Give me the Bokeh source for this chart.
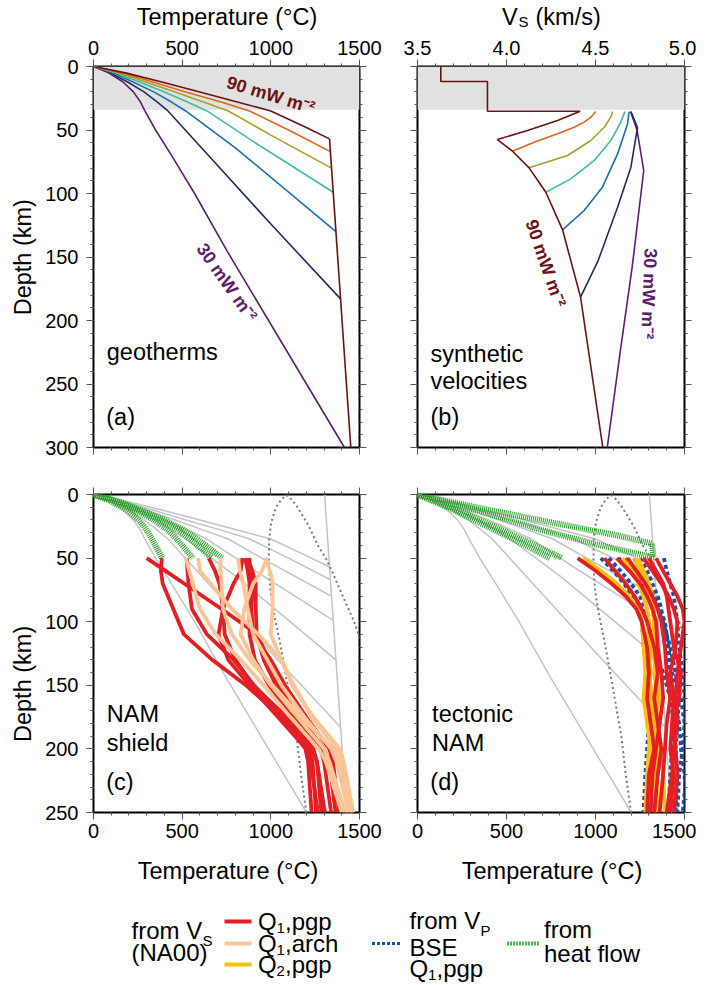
import math
from bokeh.plotting import figure
from bokeh.models import (Range1d, LinearAxis, SingleIntervalTicker, PrintfTickFormatter,
                          CustomJSTickFormatter, BoxAnnotation)
from bokeh.layouts import column, row
from bokeh.embed import file_html
from bokeh.resources import INLINE
from bokeh.core.properties import value

FONT = "Liberation Sans"

# ---------------- data ----------------
crust_depth = 34
temp_ticks = [0, 500, 1000, 1500]
vs_ticks = [3.5, 4.0, 4.5, 5.0]
depth_ticks_top = [0, 50, 100, 150, 200, 250, 300]
depth_ticks_bottom = [0, 50, 100, 150, 200, 250]

# geotherms (panel a), heat flow in mW m-2
geo_heatflow = [30, 40, 50, 60, 70, 80, 90]
geo30_T = [0, 85, 165, 225, 265, 290, 350, 440, 570, 752, 1415]
geo30_z = [0, 5, 12, 20, 28, 35, 50, 70, 100, 145, 300]
geo40_T = [0, 95, 190, 285, 360, 420, 700, 1000, 1393]
geo40_z = [0, 5, 12, 20, 28, 35, 78, 124, 183]
geo50_T = [0, 110, 220, 340, 440, 520, 800, 1367]
geo50_z = [0, 5, 12, 20, 28, 35, 64, 130]
geo60_T = [0, 125, 255, 400, 530, 640, 900, 1352]
geo60_z = [0, 5, 12, 20, 28, 35, 59, 99]
geo70_T = [0, 140, 290, 460, 620, 760, 1000, 1342]
geo70_z = [0, 5, 12, 20, 28, 35, 54, 80]
geo80_T = [0, 160, 330, 520, 720, 880, 1100, 1336]
geo80_z = [0, 5, 12, 20, 28, 35, 50, 67]
geo90_T = [0, 180, 380, 600, 800, 1000, 1200, 1331]
geo90_z = [0, 5, 12, 20, 27.5, 35, 48, 57]
adiabat_T = [1303, 1451]
adiabat_z = [0, 300]

# synthetic velocities (panel b)
vs30_v = [4.697, 4.734, 4.771, 4.706, 4.640, 4.566]
vs30_z = [35.5, 50.4, 81.9, 158, 223.6, 300]
vs40_v = [4.699, 4.736, 4.699, 4.624, 4.515, 4.416]
vs40_z = [35.5, 48, 79.3, 110.8, 152.8, 181.6]
vs50_v = [4.689, 4.680, 4.624, 4.539, 4.436, 4.315]
vs50_z = [35.5, 45.2, 68.8, 95, 113.4, 128.6]
vs60_v = [4.665, 4.642, 4.586, 4.493, 4.361, 4.221]
vs60_z = [35.5, 43.8, 58.3, 74, 88.5, 99]
vs70_v = [4.596, 4.586, 4.549, 4.474, 4.343, 4.127]
vs70_z = [35.5, 39.9, 47.8, 58.3, 70.1, 79.8]
vs80_v = [4.502, 4.474, 4.436, 4.380, 4.287, 4.155, 4.034]
vs80_z = [35.5, 39.9, 43.8, 47.8, 53, 59.6, 66.7]
vs90_v = [3.631, 3.631, 3.893, 3.893, 4.414, 4.287, 4.118, 3.949, 4.034, 4.127,
          4.221, 4.315, 4.416, 4.541]
vs90_z = [0, 11.8, 11.8, 35.2, 35.2, 42.5, 50.4, 57.5, 66.7, 79.8, 99, 128.6, 181.6, 300]

# dotted reference curve (panels c, d)
dotted_T = [1200, 1170, 1145, 1095, 1050, 1020, 997, 988, 990, 1002, 1030, 1058, 1088,
            1118, 1150, 1215, 1265, 1310, 1350, 1425, 1470, 1500, 1530]
dotted_z = [250, 220, 190, 150, 115, 95, 75, 55, 36, 22, 10, 4, 0.5,
            4, 10, 25, 40, 50, 62, 86, 100, 112, 122]

# geotherms from heat flow (green)
hf_shield_T = [[0, 95, 185, 255, 300, 330, 387],
               [0, 115, 230, 340, 420, 470, 560],
               [0, 125, 255, 380, 480, 545, 669],
               [0, 130, 265, 400, 510, 585, 726]]
hf_shield_z = [[0, 5, 12, 20, 28, 35, 50]] * 4
hf_tect_T = [[0, 372, 747, 1122, 1318, 1325],
             [0, 370, 700, 1000, 1328],
             [0, 200, 390, 580, 743],
             [0, 220, 430, 630, 813]]
hf_tect_z = [[0, 11.3, 21.8, 32.2, 38.5, 49],
             [0, 14, 28, 39, 49.5],
             [0, 12, 25, 38, 50],
             [0, 12, 25, 38, 50]]

# NAM shield (panel c) temperatures from Vs
depth_c = [50, 60, 70, 90, 110, 130, 150, 175, 200, 210, 250]
shield_q1pgp = [
    [300, 406, 511, 722, 925, 985, 1050, 1140, 1230, 1260, 1305],
    [385, 380, 390, 450, 510, 670, 860, 1060, 1195, 1210, 1230],
    [526, 530, 536, 555, 640, 790, 905, 1075, 1215, 1235, 1255],
    [650, 685, 710, 730, 740, 800, 900, 1090, 1240, 1260, 1285],
    [840, 830, 790, 730, 705, 760, 880, 1040, 1200, 1225, 1265],
    [855, 870, 880, 880, 880, 910, 990, 1120, 1280, 1300, 1340],
    [870, 895, 915, 915, 920, 960, 1030, 1160, 1300, 1330, 1365],
    [880, 880, 900, 890, 900, 1000, 1080, 1200, 1330, 1350, 1385]]
shield_q1arch = [
    [520, 540, 560, 600, 690, 830, 960, 1110, 1270, 1310, 1400],
    [590, 600, 660, 780, 930, 1060, 1130, 1230, 1370, 1400, 1450],
    [716, 716, 722, 730, 780, 880, 1010, 1170, 1350, 1385, 1460],
    [815, 825, 845, 870, 900, 980, 1060, 1190, 1340, 1370, 1440],
    [965, 995, 1010, 1010, 1000, 1060, 1120, 1240, 1390, 1410, 1465],
    [980, 950, 900, 850, 830, 900, 1000, 1150, 1300, 1330, 1420]]

# tectonic NAM (panel d)
depth_d = [50, 60, 70, 80, 90, 100, 120, 140, 160, 180, 200, 220, 250]
tect_q1pgp = [
    [900, 1000, 1090, 1170, 1230, 1260, 1290, 1300, 1290, 1310, 1330, 1300, 1290],
    [1050, 1110, 1170, 1220, 1260, 1290, 1330, 1350, 1330, 1350, 1370, 1350, 1330],
    [1180, 1230, 1280, 1320, 1350, 1370, 1390, 1400, 1420, 1400, 1390, 1380, 1360],
    [1270, 1320, 1370, 1410, 1440, 1460, 1450, 1420, 1440, 1430, 1420, 1440, 1420],
    [1340, 1380, 1420, 1460, 1490, 1500, 1480, 1460, 1450, 1460, 1440, 1430, 1400],
    [1120, 1190, 1250, 1290, 1320, 1340, 1350, 1370, 1380, 1360, 1340, 1320, 1310],
    [1300, 1340, 1380, 1400, 1410, 1420, 1440, 1480, 1470, 1440, 1450, 1460, 1440]]
tect_q2pgp = [
    [930, 1030, 1120, 1190, 1240, 1260, 1270, 1280, 1270, 1290, 1310, 1320, 1300],
    [1150, 1200, 1240, 1270, 1290, 1300, 1310, 1300, 1320, 1330, 1320, 1340, 1350],
    [1215, 1250, 1280, 1300, 1320, 1330, 1340, 1330, 1350, 1340, 1360, 1380, 1390],
    [1180, 1210, 1250, 1270, 1290, 1300, 1290, 1310, 1300, 1310, 1300, 1290, 1280],
    [1240, 1270, 1300, 1320, 1330, 1330, 1320, 1340, 1360, 1330, 1350, 1340, 1330]]
tect_vp_bse = [
    [1030, 1100, 1160, 1210, 1240, 1260, 1270, 1290, 1310, 1300, 1290, 1280, 1270],
    [1075, 1140, 1200, 1250, 1280, 1300, 1320, 1380, 1420, 1440, 1430, 1420, 1410],
    [1384, 1400, 1420, 1440, 1450, 1460, 1470, 1490, 1500, 1510, 1540, 1510, 1490],
    [1130, 1200, 1260, 1310, 1350, 1380, 1420, 1450, 1470, 1460, 1450, 1460, 1450],
    [1170, 1230, 1290, 1330, 1360, 1390, 1410, 1430, 1480, 1500, 1490, 1470, 1460],
    [1250, 1290, 1320, 1350, 1370, 1380, 1400, 1420, 1440, 1470, 1480, 1500, 1510]]

# ---------------- styles ----------------
geo_colors = ["#5e1d6e", "#222b5c", "#1a6fb0", "#3dbf9c", "#a6a02a", "#e0661c", "#6b1212"]
GREY = "#c4c4c4"
RED = "#e31e24"
PEACH = "#fbc597"
YELLOW = "#fdc010"
BLUE = "#1f4fa0"
GREEN = "#25a025"
TICK_FS = "20px"
TITLE_FS = "23.5px"
STANDOFF = {"left": 8, "above": 5, "below": 4}


def make_fig(xr, yr, fw, fh, bl, br, bt, bb):
    p = figure(x_range=xr, y_range=yr, frame_width=fw, frame_height=fh,
               min_border_left=bl, min_border_right=br, min_border_top=bt,
               min_border_bottom=bb, x_axis_location=None, y_axis_location=None,
               toolbar_location=None, output_backend="svg")
    p.grid.grid_line_color = None
    p.outline_line_color = "black"
    p.outline_line_width = 2
    p.background_fill_color = "white"
    p.border_fill_color = "white"
    return p


def make_strip(w, h):
    s = figure(width=w, height=h, x_range=Range1d(0, w), y_range=Range1d(h, 0),
               min_border=0, toolbar_location=None, output_backend="svg",
               x_axis_location=None, y_axis_location=None)
    s.grid.grid_line_color = None
    s.outline_line_color = None
    s.background_fill_color = "white"
    s.border_fill_color = "white"
    return s


def add_axes(p, xint, yint, xlab_side=None, ylab_side=None, xfmt=None):
    for side in ("left", "right", "above", "below"):
        is_x = side in ("above", "below")
        ax = LinearAxis(ticker=SingleIntervalTicker(interval=xint if is_x else yint,
                                                    num_minor_ticks=5))
        ax.axis_line_color = None
        ax.major_tick_in = 0
        ax.major_tick_out = 7
        ax.minor_tick_in = 0
        ax.minor_tick_out = 3
        ax.major_tick_line_color = "#555555"
        ax.minor_tick_line_color = "#555555"
        labeled = side == (xlab_side if is_x else ylab_side)
        if labeled:
            ax.major_label_text_font = FONT
            ax.major_label_text_font_size = TICK_FS
            ax.major_label_text_color = "black"
            ax.major_label_standoff = STANDOFF[side]
            if is_x and xfmt is not None:
                ax.formatter = xfmt
        else:
            ax.formatter = CustomJSTickFormatter(code="return ''")
            ax.major_label_text_font_size = "0px"
            ax.major_label_standoff = 0
        p.add_layout(ax, side)


def ptext(p, x, y, text, size=TITLE_FS, angle=0.0, color="black", style="normal",
          align="left"):
    p.text(x=[x], y=[y], text=[text], text_font=value(FONT), text_font_size=value(size),
           text_align=align, text_baseline="middle", angle=angle, text_color=color,
           text_font_style=style)


geo_T = [geo30_T, geo40_T, geo50_T, geo60_T, geo70_T, geo80_T, geo90_T]
geo_z = [geo30_z, geo40_z, geo50_z, geo60_z, geo70_z, geo80_z, geo90_z]
vs_v = [vs30_v, vs40_v, vs50_v, vs60_v, vs70_v, vs80_v, vs90_v]
vs_z = [vs30_z, vs40_z, vs50_z, vs60_z, vs70_z, vs80_z, vs90_z]

# ---------------- header (top axis titles) ----------------
HEAD_H = 30
header = make_strip(696, HEAD_H)
ptext(header, 226.5, 16, "Temperature (\u00b0C)", align="center")
ptext(header, 501.5, 16, "V")
ptext(header, 518, 21, "S", size="15px")
ptext(header, 535, 16, "(km/s)")

# ---------------- left strip (depth titles) ----------------
STRIP_W = 40
# ---------------- panel a ----------------
pa = make_fig(Range1d(0, 1500), Range1d(300, 0), 266, 381, 93 - STRIP_W, 29, 66 - HEAD_H, 23)
add_axes(pa, 500, 50, xlab_side="above", ylab_side="left")
pa.add_layout(BoxAnnotation(top=0, bottom=crust_depth, fill_color="#e1e1e1", fill_alpha=1,
                            line_color=None, level="underlay"))
for T, z, c in zip(geo_T, geo_z, geo_colors):
    pa.line(T, z, line_color=c, line_width=1.6)
pa.line([geo90_T[-1]] + adiabat_T[1:], [geo90_z[-1]] + adiabat_z[1:],
        line_color=geo_colors[-1], line_width=1.6)
ptext(pa, 1000, 22.5, "90 mW m\u207b\u00b2", size="18px", angle=-0.295,
      color=geo_colors[-1], style="bold", align="center")
ptext(pa, 752, 170, "30 mW m\u207b\u00b2", size="18px", angle=-0.955,
      color=geo_colors[0], style="bold", align="center")
ptext(pa, 75, 225, "geotherms")
ptext(pa, 72, 276, "(a)")

# ---------------- panel b ----------------
pb = make_fig(Range1d(3.5, 5.0), Range1d(300, 0), 267, 381, 29, 12, 66 - HEAD_H, 23)
add_axes(pb, 0.5, 50, xlab_side="above", xfmt=PrintfTickFormatter(format="%.1f"))
pb.add_layout(BoxAnnotation(top=0, bottom=crust_depth, fill_color="#e1e1e1", fill_alpha=1,
                            line_color=None, level="underlay"))
for v, z, c in zip(vs_v, vs_z, geo_colors):
    pb.line(v, z, line_color=c, line_width=1.6)
ptext(pb, 4.22, 155, "90 mW m\u207b\u00b2", size="18px", angle=-1.24,
      color=geo_colors[-1], style="bold", align="center")
ptext(pb, 4.80, 179, "30 mW m\u207b\u00b2", size="18px", angle=-1.61,
      color=geo_colors[0], style="bold", align="center")
ptext(pb, 3.573, 226, "synthetic")
ptext(pb, 3.573, 248, "velocities")
ptext(pb, 3.573, 276, "(b)")


def background(p):
    p.multi_line(geo_T, geo_z, line_color=GREY, line_width=1.5)
    p.line(adiabat_T, adiabat_z, line_color=GREY, line_width=1.5)
    p.line(dotted_T, dotted_z, line_color="#7a7a7a", line_width=2, line_dash="2 3")


# ---------------- panel c ----------------
BOT_B = 40
pc = make_fig(Range1d(0, 1500), Range1d(250, 0), 266, 318, 93 - STRIP_W, 29, 24, BOT_B)
add_axes(pc, 500, 50, xlab_side="below", ylab_side="left")
background(pc)
pc.multi_line(hf_shield_T, hf_shield_z, line_color=GREEN, line_width=6, line_dash="1 1")
pc.multi_line(shield_q1pgp, [depth_c] * len(shield_q1pgp), line_color=RED, line_width=3.8)
pc.multi_line(shield_q1arch, [depth_c] * len(shield_q1arch), line_color=PEACH,
              line_width=3.8)
ptext(pc, 75, 172.5, "NAM")
ptext(pc, 75, 195.5, "shield")
ptext(pc, 72, 226, "(c)")

# ---------------- panel d ----------------
pd = make_fig(Range1d(0, 1500), Range1d(250, 0), 267, 318, 29, 12, 24, BOT_B)
add_axes(pd, 500, 50, xlab_side="below")
background(pd)
pd.multi_line(hf_tect_T, hf_tect_z, line_color=GREEN, line_width=6, line_dash="1 1")
pd.multi_line(tect_vp_bse, [depth_d] * len(tect_vp_bse), line_color=BLUE, line_width=3.8,
              line_dash="4 3")
pd.multi_line(tect_q2pgp, [depth_d] * len(tect_q2pgp), line_color=YELLOW, line_width=3.8)
pd.multi_line(tect_q1pgp, [depth_d] * len(tect_q1pgp), line_color=RED, line_width=3.8)
ptext(pd, 82, 172.5, "tectonic")
ptext(pd, 82, 195, "NAM")
ptext(pd, 72, 226, "(d)")

# left strip spanning both rows
strip_h = (66 - HEAD_H + 381 + 23) + (24 + 318 + BOT_B)
strip = make_strip(STRIP_W, strip_h)
ptext(strip, 22.5, 256.7 - HEAD_H, "Depth (km)", angle=math.pi / 2, align="center")
ptext(strip, 22.5, 683.4 - HEAD_H, "Depth (km)", angle=math.pi / 2, align="center")

# ---------------- legend + bottom axis titles ----------------
LEG_TOP = HEAD_H + strip_h
LW, LH = 696, 985 - LEG_TOP
leg = make_strip(LW, LH)
ptext(leg, 227.5, 870 - LEG_TOP, "Temperature (\u00b0C)", align="center")
ptext(leg, 551.5, 870 - LEG_TOP, "Temperature (\u00b0C)", align="center")
LFS = "24px"
SFS = "15px"
oy = -LEG_TOP
ptext(leg, 131, 930 + oy, "from V", size=LFS)
ptext(leg, 202, 940 + oy, "S", size=SFS)
ptext(leg, 131, 952 + oy, "(NA00)", size=LFS)
for yy, col, sub, rest in [(921, RED, "1", ",pgp"), (943, PEACH, "1", ",arch"),
                           (964, YELLOW, "2", ",pgp")]:
    leg.line([224, 251], [yy + oy, yy + oy], line_color=col, line_width=4)
    ptext(leg, 257.5, yy + oy, "Q", size=LFS)
    ptext(leg, 276, yy + oy + 6, sub, size=SFS)
    ptext(leg, 284.5, yy + oy, rest, size=LFS)
leg.line([371.5, 399.5], [943 + oy, 943 + oy], line_color=BLUE, line_width=3, line_dash="3 2")
ptext(leg, 409, 920 + oy, "from V", size=LFS)
ptext(leg, 480, 930 + oy, "P", size=SFS)
ptext(leg, 409, 947 + oy, "BSE", size=LFS)
ptext(leg, 409, 968 + oy, "Q", size=LFS)
ptext(leg, 427.5, 974 + oy, "1", size=SFS)
ptext(leg, 436, 968 + oy, ",pgp", size=LFS)
leg.line([506.5, 539], [943 + oy, 943 + oy], line_color="#4cbb4c", line_width=4,
         line_dash="2 1")
ptext(leg, 543.5, 929 + oy, "from", size=LFS)
ptext(leg, 543.5, 953 + oy, "heat flow", size=LFS)

panels = column(row(pa, pb, spacing=0), row(pc, pd, spacing=0), spacing=0)
layout = column(header, row(strip, panels, spacing=0), leg, spacing=0)
open("out.html", "w").write(file_html(layout, INLINE))
